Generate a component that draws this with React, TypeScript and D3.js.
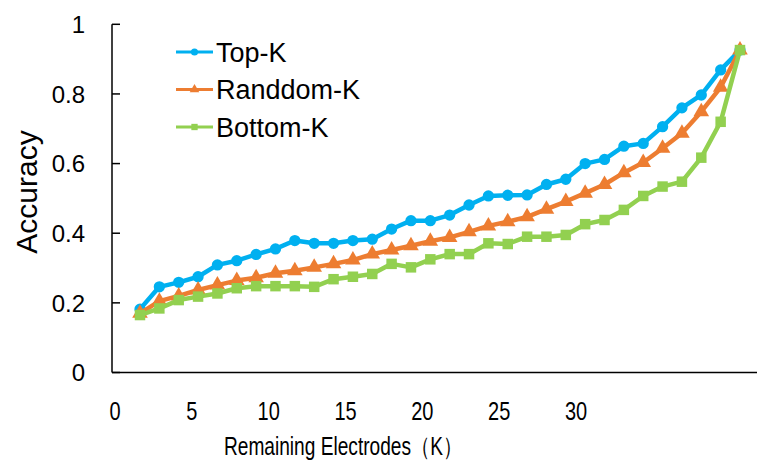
import React, { useEffect, useRef } from 'react';
import * as d3 from 'd3';

// number of electrodes kept, one entry per measured point
const electrodes = [1, 2, 3, 4, 5, 6, 7, 8, 9, 10, 11, 12, 13, 14, 15, 16, 17, 18, 19, 20, 21, 22, 23, 24, 25, 26, 27, 28, 29, 30, 31, 32];

const topK = [0.182, 0.246, 0.259, 0.275, 0.309, 0.321, 0.339, 0.355, 0.379, 0.371, 0.371, 0.379, 0.383, 0.412, 0.436, 0.436,
  0.452, 0.481, 0.507, 0.509, 0.51, 0.54, 0.555, 0.6, 0.612, 0.65, 0.658, 0.706, 0.76, 0.797, 0.869, 0.926];
const randomK = [0.17, 0.205, 0.22, 0.237, 0.251, 0.264, 0.272, 0.285, 0.292, 0.302, 0.312, 0.323, 0.34, 0.352, 0.364, 0.377,
  0.388, 0.404, 0.421, 0.433, 0.447, 0.469, 0.491, 0.515, 0.54, 0.574, 0.603, 0.644, 0.687, 0.749, 0.819, 0.926];
const bottomK = [0.165, 0.184, 0.208, 0.218, 0.227, 0.242, 0.248, 0.248, 0.248, 0.246, 0.268, 0.275, 0.283, 0.312, 0.302, 0.325,
  0.34, 0.34, 0.371, 0.369, 0.39, 0.39, 0.395, 0.426, 0.438, 0.467, 0.507, 0.534, 0.548, 0.617, 0.72, 0.926];

const seriesNames = ['Top-K', 'Randdom-K', 'Bottom-K'];
const seriesColors = ['#00B0F0', '#ED7D31', '#92D050'];
const xTickLabels = [0, 5, 10, 15, 20, 25, 30];
const yTicks = [0, 0.2, 0.4, 0.6, 0.8, 1];

const App: React.FC = () => {
  const svgRef = useRef<SVGSVGElement | null>(null);

  useEffect(() => {
    if (!svgRef.current) return;
    const svg = d3.select(svgRef.current);
    svg.selectAll('*').remove();

    const plot = { left: 112, right: 757, top: 24.3, bottom: 372.5 };

    const xScale = d3.scaleLinear().domain([1, 32]).range([140, 740]);
    const labelScale = d3.scaleLinear().domain([0, 30]).range([115, 576]);
    const yScale = d3.scaleLinear().domain([0, 1]).range([plot.bottom, plot.top]);

    const font = '"Liberation Sans", Arial, sans-serif';

    // y axis with inside ticks
    const yAxis = svg.append('g').attr('transform', `translate(${plot.left},0)`);
    yAxis.append('line')
      .attr('y1', plot.top).attr('y2', plot.bottom)
      .attr('stroke', '#000').attr('stroke-width', 1.5);
    yAxis.selectAll('.tick')
      .data(yTicks)
      .enter()
      .append('line')
      .attr('x1', 0).attr('x2', 8)
      .attr('y1', d => yScale(d)).attr('y2', d => yScale(d))
      .attr('stroke', '#000').attr('stroke-width', 1.5);
    yAxis.selectAll('.label')
      .data(yTicks)
      .enter()
      .append('text')
      .attr('x', -27)
      .attr('y', d => yScale(d))
      .attr('dy', '0.36em')
      .attr('text-anchor', 'end')
      .attr('font-family', font)
      .attr('font-size', 24)
      .text(d => String(d));

    // x axis line, labels only (condensed type)
    svg.append('line')
      .attr('x1', plot.left).attr('x2', plot.right)
      .attr('y1', plot.bottom).attr('y2', plot.bottom)
      .attr('stroke', '#000').attr('stroke-width', 1.5);
    svg.selectAll('.xlabel')
      .data(xTickLabels)
      .enter()
      .append('text')
      .attr('transform', d => `translate(${labelScale(d)},411) scale(0.8,1)`)
      .attr('dy', '0.36em')
      .attr('text-anchor', 'middle')
      .attr('font-family', font)
      .attr('font-size', 25)
      .text(d => String(d));

    svg.append('text')
      .attr('x', 224)
      .attr('y', 446)
      .attr('dy', '0.36em')
      .attr('textLength', 238)
      .attr('lengthAdjust', 'spacingAndGlyphs')
      .attr('font-family', font)
      .attr('font-size', 25)
      .text('Remaining Electrodes（K）');

    svg.append('text')
      .attr('transform', 'translate(37,192) rotate(-90)')
      .attr('text-anchor', 'middle')
      .attr('font-family', font)
      .attr('font-size', 30)
      .text('Accuracy');

    const symbols = [d3.symbolCircle, d3.symbolTriangle, d3.symbolSquare];
    const symbolSizes = [100, 105, 110];
    const allSeries = [topK, randomK, bottomK];

    const line = d3.line<number>()
      .x((_, i) => xScale(electrodes[i]))
      .y(d => yScale(d));

    allSeries.forEach((values, s) => {
      const g = svg.append('g');
      g.append('path')
        .datum(values)
        .attr('d', line)
        .attr('fill', 'none')
        .attr('stroke', seriesColors[s])
        .attr('stroke-width', 4.5)
        .attr('stroke-linejoin', 'round');
      g.selectAll('path.marker')
        .data(values)
        .enter()
        .append('path')
        .attr('class', 'marker')
        .attr('transform', (d, i) => `translate(${xScale(electrodes[i])},${yScale(d)})`)
        .attr('d', d3.symbol().type(symbols[s]).size(symbolSizes[s]))
        .attr('fill', seriesColors[s]);
    });

    // legend
    const legend = svg.append('g');
    seriesNames.forEach((name, s) => {
      const y = 52 + s * 37.5;
      legend.append('line')
        .attr('x1', 176).attr('x2', 213)
        .attr('y1', y).attr('y2', y)
        .attr('stroke', seriesColors[s]).attr('stroke-width', 3);
      legend.append('path')
        .attr('transform', `translate(194.5,${y})`)
        .attr('d', d3.symbol().type(symbols[s]).size(40))
        .attr('fill', seriesColors[s]);
      legend.append('text')
        .attr('x', 216)
        .attr('y', y)
        .attr('dy', '0.36em')
        .attr('font-family', font)
        .attr('font-size', 27)
        .text(name);
    });
  }, []);

  return (
    <svg
      ref={svgRef}
      width={761}
      height={471}
      style={{ position: 'absolute', left: 0, top: 0, background: '#fff' }}
    />
  );
};

export default App;
